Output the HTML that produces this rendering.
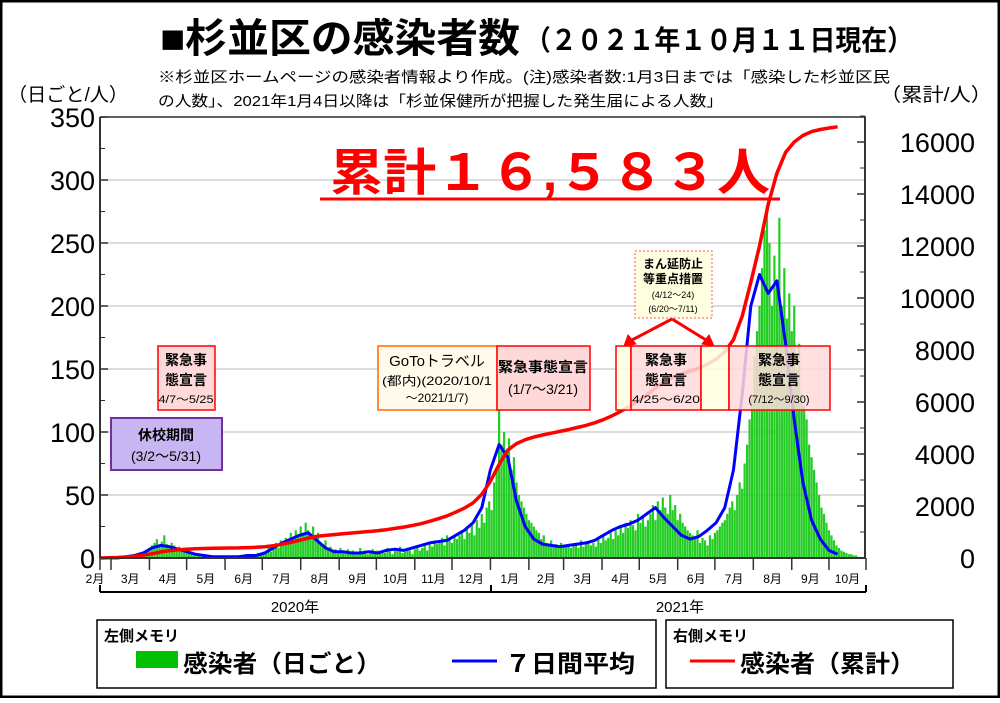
<!DOCTYPE html>
<html><head><meta charset="utf-8"><style>
body{margin:0;background:#fff}
svg text{font-family:"Liberation Sans","Noto Sans CJK JP",sans-serif}
</style></head><body>
<svg id="chart" width="1000" height="698" viewBox="0 0 1000 698" xmlns="http://www.w3.org/2000/svg">
<rect x="1" y="1" width="998" height="696" fill="#fff" stroke="#000" stroke-width="3"/>
<text x="160" y="52" font-size="40" font-weight="bold" textLength="360" lengthAdjust="spacingAndGlyphs">■杉並区の感染者数</text>
<text x="525" y="50" font-size="28" font-weight="bold" textLength="388" lengthAdjust="spacingAndGlyphs">（２０２１年１０月１１日現在）</text>
<text x="158" y="82" font-size="15" textLength="732" lengthAdjust="spacingAndGlyphs">※杉並区ホームページの感染者情報より作成。(注)感染者数:1月3日までは「感染した杉並区民</text>
<text x="158" y="106" font-size="15" textLength="565" lengthAdjust="spacingAndGlyphs">の人数」、2021年1月4日以降は「杉並保健所が把握した発生届による人数」</text>
<text x="8" y="101" font-size="19" textLength="120" lengthAdjust="spacingAndGlyphs">（日ごと/人）</text>
<text x="880" y="101" font-size="19" textLength="112" lengthAdjust="spacingAndGlyphs">（累計/人）</text>
<g id="grid"></g><g id="bars"></g><g id="lines"></g><g id="axes"></g>
<g id="annot">
<rect x="111" y="418" width="111" height="52" fill="#c8b6f2" stroke="#7030a0" stroke-width="2"/>
<text x="166" y="440" font-size="14" font-weight="bold" text-anchor="middle">休校期間</text>
<text x="166" y="461" font-size="14" text-anchor="middle">(3/2〜5/31)</text>
<rect x="158" y="346" width="57" height="64" fill="#ffd9d9" stroke="#f00" stroke-width="1.5"/>
<text x="186" y="365" font-size="14" font-weight="bold" text-anchor="middle">緊急事</text>
<text x="186" y="385" font-size="14" font-weight="bold" text-anchor="middle">態宣言</text>
<text x="186" y="403" font-size="11" text-anchor="middle" textLength="55" lengthAdjust="spacingAndGlyphs">4/7〜5/25</text>
<rect x="378" y="346" width="119" height="64" fill="#fffaea" stroke="#ff6a00" stroke-width="1.5"/>
<text x="437" y="366" font-size="15" text-anchor="middle">GoToトラベル</text>
<text x="437" y="385" font-size="12" text-anchor="middle" textLength="110" lengthAdjust="spacingAndGlyphs">(都内)(2020/10/1</text>
<text x="437" y="402" font-size="12" text-anchor="middle">〜2021/1/7)</text>
<rect x="497" y="346" width="93" height="64" fill="#ffd9d9" stroke="#f00" stroke-width="1.5"/>
<text x="543" y="372" font-size="14" font-weight="bold" text-anchor="middle" textLength="90" lengthAdjust="spacingAndGlyphs">緊急事態宣言</text>
<text x="543" y="394" font-size="14" text-anchor="middle">(1/7〜3/21)</text>
<rect x="635" y="251" width="77" height="67" fill="#ffffe0" stroke="#f55" stroke-width="1" stroke-dasharray="2,2"/>
<text x="673" y="268" font-size="12" font-weight="bold" text-anchor="middle">まん延防止</text>
<text x="673" y="283" font-size="12" font-weight="bold" text-anchor="middle">等重点措置</text>
<text x="673" y="298" font-size="9" text-anchor="middle">(4/12〜24)</text>
<text x="673" y="312" font-size="9" text-anchor="middle">(6/20〜7/11)</text>
<path d="M672 319 L632 340 M672 319 L706 340" stroke="#f00" stroke-width="3"/>
<path d="M624 346 L628 335 L636 344 Z M714 346 L702 344 L709 335 Z" fill="#f00" stroke="#f00" stroke-width="1"/>
<rect x="616" y="346" width="15" height="64" fill="#ffffe0" fill-opacity="0.85" stroke="#f00" stroke-width="1.5"/>
<rect x="631" y="346" width="70" height="64" fill="#ffd9d9" fill-opacity="0.85" stroke="#f00" stroke-width="1.5"/>
<rect x="701" y="346" width="28" height="64" fill="#ffffe0" fill-opacity="0.85" stroke="#f00" stroke-width="1.5"/>
<rect x="729" y="346" width="101" height="64" fill="#ffd9d9" fill-opacity="0.85" stroke="#f00" stroke-width="1.5"/>
<text x="666" y="365" font-size="14" font-weight="bold" text-anchor="middle">緊急事</text>
<text x="666" y="385" font-size="14" font-weight="bold" text-anchor="middle">態宣言</text>
<text x="666" y="403" font-size="11" text-anchor="middle" textLength="68" lengthAdjust="spacingAndGlyphs">4/25〜6/20</text>
<text x="779" y="365" font-size="14" font-weight="bold" text-anchor="middle">緊急事</text>
<text x="779" y="385" font-size="14" font-weight="bold" text-anchor="middle">態宣言</text>
<text x="779" y="403" font-size="11" text-anchor="middle">(7/12〜9/30)</text>
</g>
<text x="330" y="190" font-size="50" font-weight="bold" fill="#f00" textLength="440" lengthAdjust="spacingAndGlyphs">累計１６,５８３人</text>
<line x1="320" y1="199" x2="780" y2="199" stroke="#f00" stroke-width="3"/>
<line x1="100" y1="592" x2="866" y2="592" stroke="#000" stroke-width="2"/>
<path d="M100 585 V592 M491 585 V592 M866 585 V592" stroke="#000" stroke-width="2"/>
<text x="295" y="612" font-size="15" text-anchor="middle">2020年</text>
<text x="680" y="612" font-size="15" text-anchor="middle">2021年</text>
<rect x="97" y="620" width="559" height="68" fill="none" stroke="#000" stroke-width="1.5"/>
<rect x="666" y="620" width="287" height="68" fill="none" stroke="#000" stroke-width="1.5"/>
<text x="104" y="641" font-size="15" font-weight="bold">左側メモリ</text>
<rect x="136" y="651" width="42" height="17" fill="#00c000"/>
<text x="183" y="672" font-size="24" font-weight="bold" textLength="198" lengthAdjust="spacingAndGlyphs">感染者（日ごと）</text>
<line x1="452" y1="661" x2="497" y2="661" stroke="#00f" stroke-width="3"/>
<text x="505" y="672" font-size="24" font-weight="bold" textLength="130" lengthAdjust="spacingAndGlyphs">７日間平均</text>
<text x="673" y="641" font-size="15" font-weight="bold">右側メモリ</text>
<line x1="690" y1="661" x2="735" y2="661" stroke="#f00" stroke-width="3"/>
<text x="740" y="672" font-size="24" font-weight="bold" textLength="175" lengthAdjust="spacingAndGlyphs">感染者（累計）</text>
</svg>
<script>
// daily counts sampled every 2 days from 2020-02-21
const dailyCounts = [0,0,0,0,0,
0,0,0,0,1,0,1,0,2,1,3,2,4,3,6,8,
10,12,15,9,13,18,11,8,12,10,7,9,6,5,4,
5,3,2,4,2,1,2,1,0,1,2,1,0,1,2,1,
1,0,2,1,1,2,0,3,2,1,3,2,4,3,5,
6,8,5,10,12,8,14,11,16,13,20,15,22,18,25,20,
28,22,18,25,15,20,12,10,14,8,9,6,7,5,8,6,
5,7,4,6,3,5,8,4,6,3,5,7,4,6,5,
6,4,8,5,3,7,6,9,4,5,8,6,3,7,9,6,
8,10,6,12,9,14,11,13,16,10,18,14,12,17,15,
18,22,15,25,20,28,18,30,24,35,28,40,45,38,60,70,
120,90,100,85,95,70,80,60,50,45,40,35,30,28,25,22,
20,15,18,12,10,14,9,11,8,12,10,9,11,8,
10,12,8,14,9,11,13,10,12,9,15,12,18,14,16,20,
15,22,18,25,20,28,24,30,26,22,35,28,32,25,30,
35,42,30,45,38,48,40,35,50,38,42,30,35,28,25,22,
20,18,15,22,12,16,14,10,18,15,20,22,25,28,30,
35,40,45,38,50,60,55,75,90,110,130,160,180,200,230,260,
280,250,200,240,220,270,200,230,190,210,180,200,150,170,130,120,
110,90,80,70,60,50,40,35,28,22,18,14,10,8,6,
5,4,3,3,2,2];
// weekly samples from 2020-02-21
const avg7 = [0,0, 0,1,2,4, 8,10,9,7, 5,3,2,1,1, 1,1,2,2, 4,8,12,15,18, 20,14,8,5, 5,4,4,5, 4,6,7,6,8, 10,12,13,14, 18,22,28,40, 70,90,80,45,25, 15,11,10,9, 10,11,12,14, 18,22,25,27,30, 35,40,32,25, 18,15,17,22, 28,40,70,130,200, 225,210,220,170, 110,60,30,15, 6,3];
const cumulative = [0,10, 20,40,70,110, 160,230,280,320, 340,355,365,375, 380, 385,390,400,410, 430,470,530,600,680, 760,830,870,900, 930,960,990,1020, 1050,1090,1140,1190,1250, 1320,1410,1510,1620, 1760,1920,2120,2450, 2950,3600,4150,4400,4550, 4650,4730,4800,4870, 4940,5020,5100,5200, 5320,5470,5640,5830,6030, 6270,6540,6770,6950, 7080,7190,7300,7450, 7650,7930,8400,9300,10600, 12000,13600,14800,15600, 16000,16250,16400,16480, 16540,16583];
const leftTicks = [0,50,100,150,200,250,300,350];
const rightTicks = [0,2000,4000,6000,8000,10000,12000,14000,16000];
const monthLabels = ["2月","3月","4月","5月","6月","7月","8月","9月","10月","11月","12月","1月","2月","3月","4月","5月","6月","7月","8月","9月","10月"];
const monthDays = [31,30,31,30,31,31,30,31,30,31,31,28,31,30,31,30,31,31,30,31];

const NS="http://www.w3.org/2000/svg";
const X0=111, PXD=1.24, START=-9;
const xDay=d=>X0+d*PXD;
const yL=v=>558-v*(441/350);
const yR=v=>558-v*(416/16000);
function mk(tag,attrs,parent){const e=document.createElementNS(NS,tag);for(const k in attrs)e.setAttribute(k,attrs[k]);document.getElementById(parent).appendChild(e);return e;}

leftTicks.forEach(t=>{
  if(t>0){const g=mk('line',{x1:100,x2:865,y1:yL(t),y2:yL(t),stroke:'#d0d0d0','stroke-width':1.5},'grid');
  
  }
  const tx=mk('text',{x:95,y:yL(t)+10,'font-size':27,'text-anchor':'end'},'axes');tx.textContent=t;
  
  
  mk('line',{x1:100,x2:108,y1:yL(t),y2:yL(t),stroke:'#333','stroke-width':1.5},'axes');
  if(t<350)mk('line',{x1:100,x2:105,y1:yL(t+25),y2:yL(t+25),stroke:'#333','stroke-width':1},'axes');
});
rightTicks.forEach(t=>{
  const tx=mk('text',{x:975,y:yR(t)+10,'font-size':27,'text-anchor':'end'},'axes');tx.textContent=t;
  
  
  mk('line',{x1:857,x2:865,y1:yR(t),y2:yR(t),stroke:'#333','stroke-width':1.5},'axes');
  mk('line',{x1:860,x2:865,y1:yR(t+1000),y2:yR(t+1000),stroke:'#333','stroke-width':1},'axes');
});
const la=mk('line',{x1:100,x2:100,y1:117,y2:558,stroke:'#333','stroke-width':2},'axes');


const ra=mk('line',{x1:865,x2:865,y1:117,y2:558,stroke:'#333','stroke-width':2},'axes');


const xa=mk('line',{x1:100,x2:866,y1:558,y2:558,stroke:'#333','stroke-width':2},'axes');


mk('line',{x1:100,x2:866,y1:117,y2:117,stroke:'#333','stroke-width':1.5},'axes');
let d=0;
mk('line',{x1:100,x2:100,y1:558,y2:570,stroke:'#333','stroke-width':1.5},'axes');
monthLabels.forEach((m,i)=>{
  let xs, xe;
  if(i===0){xs=100; xe=xDay(0);} else {xs=xDay(d); d+=monthDays[i-1]; xe=Math.min(xDay(d),866);}
  mk('line',{x1:xe,x2:xe,y1:558,y2:570,stroke:'#333','stroke-width':1.5},'axes');
  const tx=mk('text',{x:i===0?95:(xs+xe)/2,y:583,'font-size':12,'text-anchor':'middle'},'axes');tx.textContent=m;
  
  
});
dailyCounts.forEach((v,i)=>{
  const x=xDay(START+i*2);
  const b=mk('rect',{x:x-1.1,y:yL(v),width:2.2,height:558-yL(v),fill:'#22cc22'},'bars');
  
  
});
const pAvg=avg7.map((v,i)=>xDay(START+i*7).toFixed(1)+','+yL(v).toFixed(1)).join(' ');
const pl1=mk('polyline',{points:pAvg,fill:'none',stroke:'#0000ff','stroke-width':3,'stroke-linejoin':'round'},'lines');


const pCum=cumulative.map((v,i)=>xDay(START+i*7).toFixed(1)+','+yR(v).toFixed(1)).join(' ');
const pl2=mk('polyline',{points:pCum,fill:'none',stroke:'#ff0000','stroke-width':3.5,'stroke-linejoin':'round'},'lines');


</script>
</body></html>
